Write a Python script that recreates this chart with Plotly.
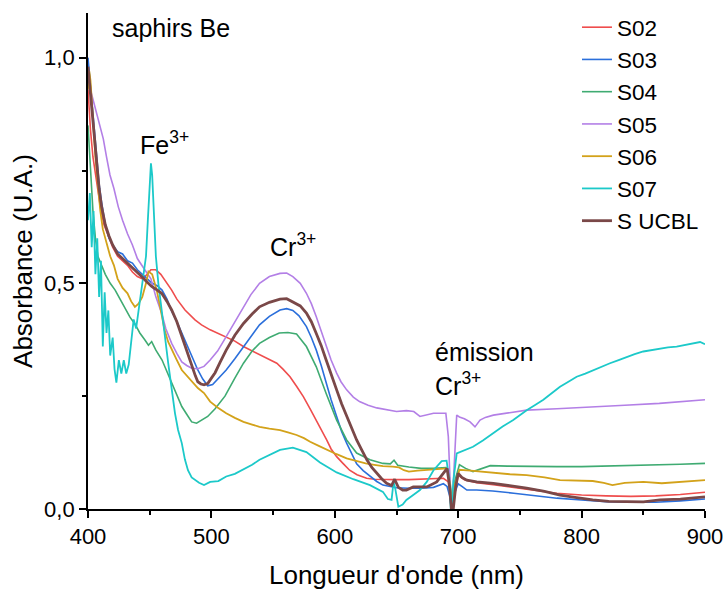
import plotly.graph_objects as go

# ---------------- data ----------------
names = ["S02", "S03", "S04", "S05", "S06", "S07", "S UCBL"]

s02_x = [400,402,404,406,408,410,413,416,420,424,428,432,436,440,444,448,451,455,459,463,467.8,472,478.6,486.7,492,499,511,519,525.9,533,540,547,553,558,563.7,569,574.5,580,585,589,593.4,597,601.5,607,612,618,625.8,632,640,650,660,670,680,688,692,694,695,697,700,705,715,730,745,760,780,800,820,840,860,880,900]
s02_y = [0.93,0.84,0.78,0.74,0.70,0.67,0.63,0.61,0.58,0.56,0.55,0.54,0.525,0.515,0.51,0.52,0.53,0.53,0.52,0.505,0.485,0.465,0.441,0.419,0.408,0.397,0.382,0.372,0.36,0.35,0.341,0.332,0.323,0.31,0.293,0.272,0.249,0.222,0.197,0.175,0.153,0.133,0.116,0.1,0.086,0.076,0.068,0.066,0.065,0.065,0.065,0.066,0.067,0.068,0.06,0.01,0.0,0.03,0.075,0.065,0.058,0.053,0.047,0.042,0.035,0.031,0.029,0.028,0.029,0.032,0.037]

s03_x = [400,401,403,405,407,409,411,414,417,420,424,428,432,436,440,444,448,452,456,460,464,468,472,476,480,485,489,493,497,501,506,512,519,526,533,539,547,555.6,561,566,571,577,581,585,589,593,597,601.5,605.5,609.6,613.7,617.7,623,628.5,634,639,645,650,660,670,680,688,691,693,694.5,695.5,697,700,703,707,715,728,745,760,780,800,820,840,860,880,900]
s03_y = [1.0,0.97,0.9,0.84,0.78,0.72,0.68,0.63,0.60,0.585,0.57,0.565,0.55,0.545,0.53,0.52,0.51,0.50,0.495,0.485,0.465,0.437,0.415,0.39,0.362,0.33,0.308,0.288,0.273,0.276,0.29,0.308,0.333,0.36,0.387,0.408,0.427,0.441,0.444,0.44,0.428,0.404,0.38,0.352,0.318,0.279,0.242,0.205,0.172,0.146,0.122,0.10,0.085,0.072,0.061,0.053,0.049,0.047,0.046,0.046,0.048,0.056,0.05,0.03,0.0,0.0,0.035,0.056,0.05,0.042,0.042,0.04,0.035,0.03,0.024,0.02,0.016,0.015,0.015,0.018,0.022]

s04_x = [400,402,404,406,408,411,414,418,422,426,430,434,438,442,446,449,451.6,455,460,464,468,472,476,480,484,488,492,497,503,511,519,526,533,539,547,555,562,569,577,585,593,601.5,609.6,617.7,628.5,639,645,648,651,655,660,670,680,690,693,695,697,701,706,712,718,726,740,760,780,800,820,840,860,880,900]
s04_y = [0.85,0.75,0.66,0.60,0.56,0.54,0.52,0.50,0.485,0.465,0.445,0.425,0.41,0.39,0.375,0.363,0.371,0.352,0.33,0.305,0.279,0.253,0.227,0.21,0.193,0.19,0.197,0.205,0.222,0.25,0.29,0.323,0.35,0.367,0.38,0.39,0.391,0.388,0.36,0.315,0.256,0.197,0.153,0.124,0.109,0.101,0.10,0.108,0.097,0.095,0.093,0.09,0.09,0.092,0.07,0.02,0.06,0.098,0.09,0.083,0.088,0.096,0.095,0.094,0.094,0.094,0.095,0.096,0.097,0.099,0.101]

s05_x = [400,402,404,407,410,412.4,415,417.8,421,424.5,428,432,436,440,446,451,455,459.7,463,467.8,472,476,480,484,489,494,499,505,512,519,526,532,539,547,555.6,561,566,572,577,581,585,589,593,597,601.5,605,609.6,615,620,627,634,642,650,658,664,669,674,680,686,690,692,694,695,696,698.8,701,705,709.6,713.6,717.7,722,728.5,740,755.5,780,809,835,863,880,900]
s05_y = [0.95,0.93,0.91,0.88,0.85,0.82,0.78,0.74,0.71,0.67,0.64,0.61,0.585,0.555,0.53,0.51,0.47,0.434,0.40,0.367,0.345,0.326,0.318,0.312,0.311,0.316,0.33,0.35,0.382,0.415,0.448,0.475,0.50,0.515,0.522,0.523,0.515,0.50,0.478,0.455,0.426,0.395,0.36,0.33,0.301,0.282,0.264,0.248,0.238,0.23,0.224,0.22,0.216,0.218,0.216,0.205,0.208,0.212,0.212,0.212,0.16,0.02,0.0,0.06,0.208,0.204,0.200,0.193,0.182,0.197,0.203,0.208,0.212,0.219,0.222,0.227,0.230,0.234,0.237,0.242]

s06_x = [400,401,402,404,406,408,410,412,415,418,421,424,428,432,435,438,441,444,447,449,452,455.7,459,462,465,468,472,476,480,484,489,494,499,505,512,519,526,533,539,547,555.6,562,569,575,580,587,593.8,601,609.6,617,625,632,639,647,652,656,660,667,674.5,683,691,693,695,697,701,710,728.5,742,755.5,770,782.5,795,809,818,825,835,850,865,877,890,900]
s06_y = [0.93,0.97,0.95,0.85,0.78,0.72,0.66,0.62,0.59,0.56,0.54,0.51,0.49,0.478,0.46,0.448,0.455,0.47,0.50,0.526,0.52,0.485,0.44,0.397,0.37,0.352,0.33,0.308,0.295,0.282,0.268,0.257,0.238,0.225,0.212,0.202,0.193,0.187,0.182,0.178,0.175,0.17,0.164,0.157,0.149,0.14,0.131,0.122,0.112,0.106,0.101,0.098,0.095,0.094,0.092,0.086,0.083,0.085,0.087,0.088,0.09,0.06,0.0,0.05,0.087,0.085,0.08,0.077,0.075,0.07,0.064,0.063,0.062,0.058,0.053,0.058,0.06,0.057,0.059,0.062,0.064]

s07_x = [400,401.5,403,404.5,406,407.5,409,410.5,412,413.5,415,416.5,418,420,421.5,423,425,427,429,431,433,435,437,439,441,443,445,447,448.5,450,451,452,453.5,455,457,459.7,462,465,468,470.5,473,476,478.5,481,484,486.7,490,494,499,505.6,512,519,526,533,539,547,555.6,566,577,588,601.5,615,628.5,639,643,646,647.6,649,651.5,655,658,663,669,674.5,680,686.6,690.6,692.5,694,695,696,698.8,705,712,720,728.5,736,744.6,750,755.5,762,769,776,782.5,790,796,803,809.6,816,823,830,836.5,843,850,857,863.6,870,877,884,890.6,896,900]
s07_y = [0.64,0.70,0.58,0.66,0.52,0.60,0.47,0.55,0.36,0.48,0.39,0.44,0.34,0.38,0.31,0.28,0.33,0.30,0.33,0.30,0.32,0.37,0.42,0.40,0.44,0.47,0.51,0.56,0.64,0.73,0.766,0.74,0.64,0.56,0.50,0.434,0.39,0.323,0.26,0.212,0.175,0.146,0.11,0.086,0.07,0.064,0.058,0.053,0.06,0.062,0.072,0.078,0.088,0.098,0.109,0.12,0.131,0.136,0.126,0.103,0.081,0.066,0.053,0.038,0.022,0.02,0.06,0.045,0.005,0.01,0.02,0.03,0.042,0.06,0.086,0.106,0.107,0.07,0.0,0.0,0.06,0.123,0.13,0.138,0.152,0.168,0.183,0.197,0.208,0.219,0.23,0.242,0.257,0.271,0.283,0.293,0.30,0.308,0.315,0.323,0.33,0.337,0.343,0.349,0.352,0.356,0.358,0.36,0.364,0.367,0.37,0.365]

sucbl_x = [400,401,403,405,407,409,411,414,417,420,424,428,432,436,440,443.5,447,451.6,455,459.7,464,467.8,472,476,480,484,487,489,491.5,494,497,500,503,507,512,519,526,533,539,547,555.6,561,566,572,577,581,585,589,593,597,601.5,605.5,609.6,613.7,617.7,622,626,630,634,638,642,646,648.5,651.5,655,658,663.6,669,674.5,682.6,689,691,693,694.5,696,698,700,703,707,715,728.5,742,755.5,770,782.5,796,809,822,836.5,850,863.6,880,900]
sucbl_y = [0.98,0.95,0.88,0.82,0.76,0.71,0.67,0.63,0.605,0.585,0.565,0.555,0.545,0.535,0.525,0.515,0.505,0.493,0.487,0.478,0.46,0.441,0.415,0.382,0.35,0.315,0.295,0.282,0.277,0.275,0.278,0.29,0.302,0.325,0.352,0.385,0.411,0.432,0.448,0.458,0.465,0.466,0.459,0.45,0.434,0.415,0.389,0.362,0.330,0.297,0.264,0.233,0.205,0.178,0.153,0.13,0.109,0.092,0.079,0.067,0.057,0.052,0.066,0.048,0.042,0.042,0.049,0.049,0.049,0.06,0.083,0.09,0.05,0.0,0.0,0.05,0.079,0.07,0.064,0.06,0.057,0.052,0.046,0.039,0.031,0.025,0.02,0.017,0.016,0.016,0.02,0.022,0.027]

x_tickvals = [400, 500, 600, 700, 800, 900]
y_tickvals = [0.0, 0.5, 1.0]
y_ticktext = ["0,0", "0,5", "1,0"]

colors = ["#EF4D4D", "#2B6FDB", "#3FAB72", "#B37FE6", "#D3A21A", "#1CC9C9", "#7A4848"]
widths = [1.6, 1.6, 1.6, 1.6, 1.8, 1.8, 2.8]

series = [(s02_x, s02_y), (s03_x, s03_y), (s04_x, s04_y), (s05_x, s05_y),
          (s06_x, s06_y), (s07_x, s07_y), (sucbl_x, sucbl_y)]

FONT = "Liberation Sans, Arial, sans-serif"

fig = go.Figure()
for name, (xs, ys), c, w in zip(names, series, colors, widths):
    fig.add_trace(go.Scatter(x=xs, y=ys, mode="lines", name=name,
                             line=dict(color=c, width=w)))

axis_common = dict(showline=True, linecolor="black", linewidth=1.8, ticks="outside",
                   ticklen=7, tickwidth=1.8, tickcolor="black", showgrid=False,
                   zeroline=False, tickfont=dict(family=FONT, size=22, color="black"),
                   mirror=False, automargin=False)

fig.update_layout(
    width=724, height=590,
    margin=dict(l=88, r=19, t=13, b=81, autoexpand=False),
    plot_bgcolor="white", paper_bgcolor="white",
    font=dict(family=FONT, color="black"),
    xaxis=dict(range=[400, 900], tickvals=x_tickvals,
               minor=dict(ticks="outside", ticklen=4, tickwidth=1.8, tickcolor="black", dtick=50, showgrid=False),
               title=dict(text="Longueur d'onde (nm)", font=dict(family=FONT, size=26, color="black"), standoff=18),
               **axis_common),
    yaxis=dict(range=[0, 1.099], tickvals=y_tickvals, ticktext=y_ticktext,
               minor=dict(ticks="outside", ticklen=4, tickwidth=1.8, tickcolor="black", tickvals=[0.25, 0.75], showgrid=False),
               title=dict(text="Absorbance (U.A.)", font=dict(family=FONT, size=26, color="black"), standoff=4),
               **axis_common),
    legend=dict(x=0.7925, y=1.014, xanchor="left", yanchor="top",
                bgcolor="rgba(0,0,0,0)", font=dict(family=FONT, size=22.5, color="black"),
                tracegroupgap=0),
    showlegend=True,
)

ann_font = dict(family=FONT, size=25, color="black")
fig.add_annotation(x=417.8, y=1.066, xref="x", yref="y", text="saphirs Be", showarrow=False,
                   xanchor="left", yanchor="middle", font=ann_font)
fig.add_annotation(x=440.5, y=0.81, xref="x", yref="y", text="Fe<sup>3+</sup>", showarrow=False,
                   xanchor="left", yanchor="middle", font=ann_font)
fig.add_annotation(x=545.5, y=0.585, xref="x", yref="y", text="Cr<sup>3+</sup>", showarrow=False,
                   xanchor="left", yanchor="middle", font=ann_font)
fig.add_annotation(x=679.5, y=0.348, xref="x", yref="y", text="émission", showarrow=False,
                   xanchor="left", yanchor="middle", font=ann_font)
fig.add_annotation(x=679.5, y=0.278, xref="x", yref="y", text="Cr<sup>3+</sup>", showarrow=False,
                   xanchor="left", yanchor="middle", font=ann_font)

fig.write_html("out.html")
